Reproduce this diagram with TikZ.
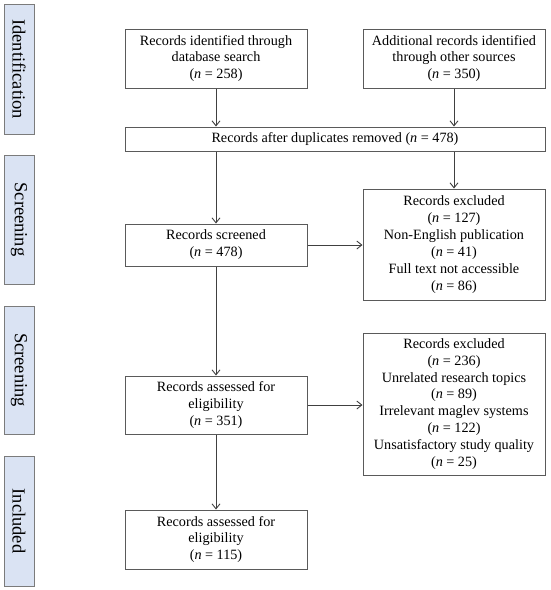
\documentclass[tikz,border=0pt]{standalone}
\usepackage{fontspec}
\setmainfont{Liberation Serif}
\usetikzlibrary{arrows.meta}
\definecolor{sidefill}{HTML}{DAE3F3}
\definecolor{edge}{HTML}{5A5A5A}
\begin{document}
\begin{tikzpicture}[x=1pt,y=-1pt,
  every node/.style={font=\fontsize{14.2}{16.9}\selectfont, align=center, inner sep=0pt},
  box/.style={draw=edge, line width=1pt, fill=white, minimum width=182pt},
  side/.style={draw=edge!80, line width=1pt, fill=sidefill, minimum height=30pt, rotate=-90, font=\fontsize{18.5}{20}\selectfont},
  conn/.style={draw=black!75, line width=0.9pt, -{Straight Barb[length=5pt,width=8pt]}}]
\useasboundingbox (0,0) rectangle (550,590);
% side labels
\node[side, minimum width=130pt] (s1) at (19,69) {Identification};
\node[side, minimum width=129pt] (s2) at (19,219.5) {Screening};
\node[side, minimum width=128pt] (s3) at (19,370) {Screening};
\node[side, minimum width=130pt] (s4) at (19,521) {Included};
% main boxes
\node[box, minimum height=59pt] (b1) at (216,58.5) {Records identified through\\database search\\(\textit{n} = 258)};
\node[box, minimum height=59pt] (b2) at (454,58.5) {Additional records identified\\through other sources\\(\textit{n} = 350)};
\node[box, minimum width=420pt, minimum height=24pt] (dup) at (335,139) {Records after duplicates removed (\textit{n} = 478)};
\node[box, minimum height=42pt] (scr) at (216,245) {Records screened\\(\textit{n} = 478)};
\node[box, minimum height=111pt] (ex1) at (454,244.5) {Records excluded\\(\textit{n} = 127)\\Non-English publication\\(\textit{n} = 41)\\Full text not accessible\\(\textit{n} = 86)};
\node[box, minimum height=58pt] (ass) at (216,405) {Records assessed for\\eligibility\\(\textit{n} = 351)};
\node[box, minimum height=142pt] (ex2) at (454,404) {Records excluded\\(\textit{n} = 236)\\Unrelated research topics\\(\textit{n} = 89)\\Irrelevant maglev systems\\(\textit{n} = 122)\\Unsatisfactory study quality\\(\textit{n} = 25)};
\node[box, minimum height=59pt] (fin) at (216,539.5) {Records assessed for\\eligibility\\(\textit{n} = 115)};
% connectors
\draw[conn] (b1.south) -- (b1.south |- dup.north);
\draw[conn] (b2.south) -- (b2.south |- dup.north);
\draw[conn] (dup.south -| scr.north) -- (scr.north);
\draw[conn] (dup.south -| ex1.north) -- (ex1.north);
\draw[conn] (scr.east) -- (scr.east -| ex1.west);
\draw[conn] (scr.south) -- (ass.north);
\draw[conn] (ass.east) -- (ass.east -| ex2.west);
\draw[conn] (ass.south) -- (fin.north);
\end{tikzpicture}
\end{document}
